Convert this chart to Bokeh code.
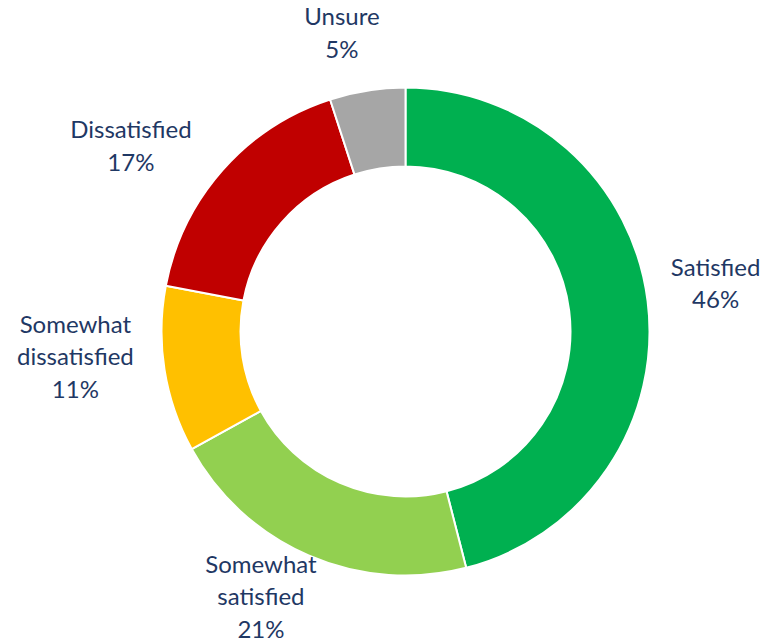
import math
from bokeh.plotting import figure
from bokeh.models import Range1d
from bokeh.core.properties import value
from bokeh.embed import file_html
from bokeh.resources import INLINE

# ---- data ----
categories = ["Satisfied", "Somewhat satisfied", "Somewhat dissatisfied", "Dissatisfied", "Unsure"]
label_lines = [["Satisfied"], ["Somewhat", "satisfied"], ["Somewhat", "dissatisfied"], ["Dissatisfied"], ["Unsure"]]
percents = [46, 21, 11, 17, 5]
colors = ["#00B050", "#92D050", "#FFC000", "#C00000", "#A6A6A6"]

# ---- layout ----
W, H = 776, 643
cx, cy = 405, H - 331
R_out, R_in = 244, 165
# label distance from center and angular nudge (degrees) per slice, mimicking best-fit placement
label_r = [314, 301, 331, 332, 306]
label_nudge = [-1.8, 5.3, 4.8, -7.2, -3.0]
line_h = 32.5
text_color = "#1F3864"
font = "Lato"
fsize = "24px"

p = figure(width=W, height=H, x_range=Range1d(0, W), y_range=Range1d(0, H),
           output_backend="svg", toolbar_location=None, min_border=0)
p.axis.visible = False
p.grid.visible = False
p.outline_line_color = None
p.background_fill_color = "white"

total = float(sum(percents))
cum = 0.0
starts, ends, mids = [], [], []
for v in percents:
    a0 = math.pi / 2 - 2 * math.pi * cum / total
    cum += v
    a1 = math.pi / 2 - 2 * math.pi * cum / total
    starts.append(a0)
    ends.append(a1)
    mids.append((a0 + a1) / 2)

p.annular_wedge(x=cx, y=cy, inner_radius=R_in, outer_radius=R_out,
                start_angle=starts, end_angle=ends, direction="clock",
                fill_color=colors, line_color="white", line_width=2)

tx, ty, tt = [], [], []
for i, (lines, pct) in enumerate(zip(label_lines, percents)):
    ang = mids[i] - math.radians(label_nudge[i])
    lx = cx + label_r[i] * math.cos(ang)
    ly = cy + label_r[i] * math.sin(ang)
    all_lines = lines + [f"{pct}%"]
    n = len(all_lines)
    for k, s in enumerate(all_lines):
        tx.append(lx)
        ty.append(ly + (n - 1) / 2 * line_h - k * line_h)
        tt.append(s)

p.text(x=tx, y=ty, text=tt, text_align="center", text_baseline="middle",
       text_color=text_color, text_font=value(font), text_font_size=fsize)

open("out.html", "w").write(file_html(p, INLINE))
